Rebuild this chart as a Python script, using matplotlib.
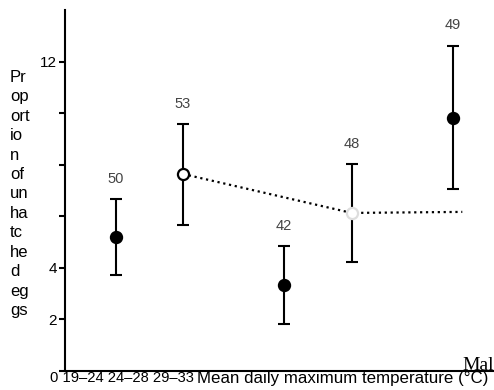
import numpy as np
import matplotlib.pyplot as plt

plt.rcParams['font.family'] = ['Liberation Sans', 'DejaVu Sans']

# data
x_pos = [1, 2, 3.5, 4.5, 6]
means = [5.20, 7.64, 3.35, 6.13, 9.81]
upper = [6.67, 9.57, 4.86, 8.02, 12.62]
lower = [3.74, 5.67, 1.81, 4.24, 7.06]
n_labels = ['50', '53', '42', '48', '49']

line_x = [2, 4.5, 6.14]
line_y = [7.64, 6.13, 6.17]

y_ticks = [0, 2, 4, 6, 8, 10, 12]
y_tick_labels = ['', '2', '4', '', '', '', '12']
cat_text = '0 19\u201324 24\u201328 29\u201333'
x_title = 'Mean daily maximum temperature (\u00b0C)'
y_text = ['Pr', 'op', 'ort', 'io', 'n', 'of', 'un', 'ha', 'tc', 'he', 'd', 'eg', 'gs']

# marker style per point: (face, edge)
styles = [('black', 'black'), ('white', 'black'), ('black', 'black'),
          ('white', '#dddddd'), ('black', 'black')]

fig = plt.figure(figsize=(4.94, 3.90), dpi=100)
ax = fig.add_axes([65/494, 19/390, 429/494, 361/390])

x = np.array(x_pos)
m = np.array(means)
yerr = np.vstack([m - np.array(lower), np.array(upper) - m])

ax.plot(line_x, line_y, linestyle=':', color='black', lw=1.6, zorder=2)
ax.errorbar(x, m, yerr=yerr, fmt='none', ecolor='black', elinewidth=1.5,
            capsize=4.5, capthick=1.5, zorder=3)
for xi, yi, (fc, ec) in zip(x, m, styles):
    ax.plot(xi, yi, 'o', ms=8, mfc=fc, mec=ec, mew=1.6, zorder=4)

for xi, up, lab in zip(x, upper, n_labels):
    ax.annotate(lab, xy=(xi, up), xytext=(0, 14.5), textcoords='offset points',
                ha='center', va='center', fontsize=10.5, color='#444444')

ax.set_xlim(0.25, 6.61)
ax.set_ylim(0, 14)
ax.set_yticks(y_ticks)
ax.set_yticklabels(y_tick_labels, fontsize=11)
ax.set_xticks([])
ax.tick_params(axis='y', length=4, width=1.5, pad=2)
for s in ['top', 'right']:
    ax.spines[s].set_visible(False)
ax.spines['left'].set_linewidth(1.5)
ax.spines['bottom'].set_linewidth(1.5)

fig.text(50/494, 1 - 378/390, cat_text, ha='left', va='center', fontsize=10.6)
fig.text(197/494, 1 - 378/390, x_title, ha='left', va='center', fontsize=12.2)
fig.text(10/494, 1 - 194/390, '\n'.join(y_text), ha='left', va='center',
         fontsize=12, linespacing=1.37)
fig.text(462/494, 1 - 370/390, 'Mal', ha='left', va='baseline',
         fontsize=14, family=['Liberation Serif', 'DejaVu Serif'])

fig.savefig('out.png', dpi=100)
